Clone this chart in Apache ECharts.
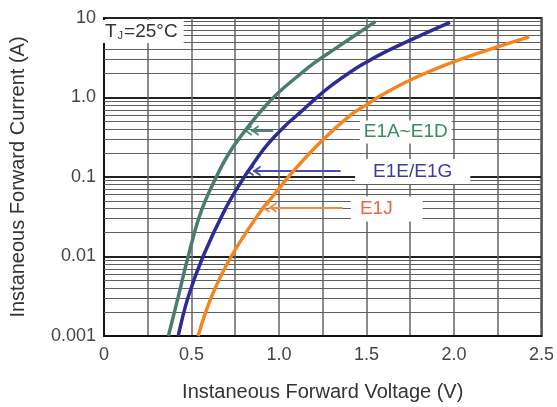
<!DOCTYPE html>
<html>
<head>
<meta charset="utf-8">
<style>
  html, body { margin: 0; padding: 0; background: #fff; }
  #chart { width: 557px; height: 407px; }
</style>
<script src="https://cdn.jsdelivr.net/npm/echarts@6/dist/echarts.min.js"></script>
</head>
<body>
<div id="chart"></div>
<script>
// tick labels
const xTickLabels = ['0', '0.5', '1.0', '1.5', '2.0', '2.5']
const yTickLabels = ['0.001', '0.01', '0.1', '1.0', '10']
const decades = [0.001, 0.01, 0.1, 1]
const minorSteps = [2, 3, 4, 5, 6, 7, 8, 9]

// E1A~E1D
const vGreen = [0.368, 0.424, 0.481, 0.557, 0.661, 0.727, 0.784, 0.841, 0.898, 0.993, 1.125, 1.2, 1.313, 1.551]
const iGreen = [0.001, 0.0031, 0.01, 0.038, 0.122, 0.22, 0.33, 0.48, 0.68, 1.13, 2.0, 2.7, 4.0, 9.0]
// E1E/E1G
const vBlue = [0.424, 0.481, 0.566, 0.689, 0.784, 0.841, 0.93, 1.03, 1.125, 1.22, 1.3, 1.41, 1.504, 1.58, 1.75, 1.977]
const iBlue = [0.001, 0.0031, 0.01, 0.038, 0.087, 0.135, 0.25, 0.43, 0.66, 1.02, 1.42, 2.11, 2.82, 3.49, 5.26, 8.8]
// E1J
const vOrange = [0.538, 0.614, 0.727, 0.898, 0.955, 1.087, 1.248, 1.409, 1.504, 1.58, 1.75, 2.0, 2.25, 2.43]
const iOrange = [0.001, 0.0031, 0.01, 0.038, 0.054, 0.122, 0.29, 0.6, 0.82, 1.05, 1.66, 2.82, 4.35, 5.8]

const font = 'Liberation Sans, Arial, sans-serif'
const chevron = 'path://M5,0L10,7L8,7L5,3L2,7L0,7Z M5,6L10,13L8,13L5,9L2,13L0,13Z'

const zip = (xs, ys) => xs.map((x, i) => [x, ys[i]])

// minor log grid lines, drawn across the whole x range
let minorLines = []
decades.forEach(d => minorSteps.forEach(m => {
  minorLines.push([{ coord: [0, d * m] }, { coord: [2.5, d * m] }])
}))

function curve(name, color, vs, is, arrow, text) {
  return {
    name: name,
    type: 'line',
    data: zip(vs, is),
    showSymbol: false,
    smooth: 0.4,
    z: 5,
    lineStyle: { color: color, width: 3.5 },
    markLine: {
      silent: true,
      symbol: ['none', chevron],
      symbolSize: [11, 15],
      label: { show: false },
      lineStyle: { color: arrow.color, width: 2, type: 'solid' },
      data: [[{ coord: [arrow.from, arrow.y] }, { coord: [arrow.to, arrow.y] }]]
    },
    markPoint: {
      silent: true,
      data: [{
        coord: text.at,
        symbol: 'rect',
        symbolSize: 1,
        itemStyle: { color: 'rgba(0,0,0,0)' },
        label: {
          show: true,
          position: 'inside',
          formatter: name,
          color: text.color,
          fontSize: 19,
          fontFamily: font,
          backgroundColor: '#fff',
          padding: text.pad
        }
      }]
    }
  }
}

const chart = echarts.init(document.getElementById('chart'))
chart.setOption({
  animation: false,
  backgroundColor: '#fff',
  grid: {
    left: 102, right: 15, top: 18, bottom: 71,
    show: true, borderColor: '#111', borderWidth: 2
  },
  xAxis: {
    type: 'value',
    min: 0, max: 2.5, interval: 0.5,
    name: 'Instaneous Forward Voltage (V)',
    nameLocation: 'middle',
    nameGap: 46,
    nameTextStyle: { fontSize: 20, color: '#333', fontFamily: font },
    axisLine: { lineStyle: { color: '#111', width: 2 } },
    axisTick: { show: false },
    axisLabel: {
      margin: 10, fontSize: 18, color: '#444', fontFamily: font,
      formatter: v => xTickLabels[Math.round(v / 0.5)]
    },
    splitLine: { show: true, lineStyle: { color: '#666', width: 1.5 } },
    minorTick: { show: false, splitNumber: 2 },
    minorSplitLine: { show: true, lineStyle: { color: '#666', width: 1.5 } }
  },
  yAxis: {
    type: 'log',
    logBase: 10,
    min: 0.001, max: 10,
    splitNumber: 4,
    name: 'Instaneous Forward Current (A)',
    nameLocation: 'middle',
    nameGap: 76,
    nameTextStyle: { fontSize: 20, color: '#333', fontFamily: font },
    axisLine: { lineStyle: { color: '#111', width: 2 } },
    axisTick: { show: false },
    axisLabel: {
      margin: 8, fontSize: 18, color: '#444', fontFamily: font,
      formatter: v => yTickLabels[Math.round(Math.log10(v)) + 3]
    },
    splitLine: { show: true, lineStyle: { color: '#222', width: 2 } }
  },
  graphic: [{
    type: 'text',
    left: 103,
    top: 20,
    z: 10,
    style: {
      text: '{a|T}{b|J}{a|=25°C}',
      backgroundColor: '#fff',
      padding: [2, 6, 2, 2],
      rich: {
        a: { fontSize: 19, fill: '#333', fontFamily: font },
        b: { fontSize: 11, fill: '#333', fontFamily: font, verticalAlign: 'bottom', padding: [8, 1, 0, 1] }
      }
    }
  }],
  series: [
    {
      type: 'line',
      data: [],
      z: 1,
      markLine: {
        silent: true,
        symbol: ['none', 'none'],
        label: { show: false },
        lineStyle: { color: '#5e5e5e', width: 1.2, type: 'solid' },
        data: minorLines
      }
    },
    curve('E1A~E1D', '#4a7c72', vGreen, iGreen,
      { from: 0.966, to: 0.841, y: 0.385, color: '#4f8a78' },
      { at: [1.724, 0.368], color: '#3b8a62', pad: [2, 4, 2, 4] }),
    curve('E1E/E1G', '#2d2c96', vBlue, iBlue,
      { from: 1.352, to: 0.852, y: 0.119, color: '#4b4bb0' },
      { at: [1.764, 0.117], color: '#3d3d9e', pad: [3, 18, 3, 18] }),
    curve('E1J', '#f5861f', vOrange, iOrange,
      { from: 1.364, to: 0.943, y: 0.0413, color: '#f08a4b' },
      { at: [1.616, 0.0395], color: '#f0683a', pad: [3, 30, 3, 9] })
  ]
})
</script>
</body>
</html>
